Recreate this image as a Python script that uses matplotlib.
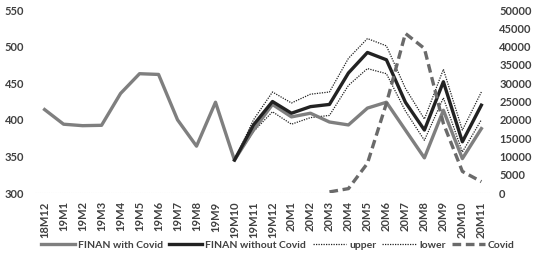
import matplotlib.pyplot as plt

plt.rcParams['font.family'] = ['Lato', 'DejaVu Sans']

months = ['18M12', '19M1', '19M2', '19M3', '19M4', '19M5', '19M6', '19M7', '19M8',
          '19M9', '19M10', '19M11', '19M12', '20M1', '20M2', '20M3', '20M4', '20M5',
          '20M6', '20M7', '20M8', '20M9', '20M10', '20M11']

with_covid = [414, 394, 392, 392.5, 436, 463, 462, 400, 364, 424, 345,
              386, 421, 404, 409, 397, 393, 416, 424, 386, 348, 413, 347, 388]

# forecast series start at 19M10
fc_months = months[10:]
without_covid = [345, 393, 425, 409, 418, 421, 464, 492, 482, 424, 386, 452, 370, 420]
upper = [345, 400, 438, 423, 435, 438, 484, 511, 501, 443, 401, 469, 386, 438]
lower = [345, 384, 411, 394, 403, 406, 447, 470, 463, 412, 372, 430, 356, 400]

covid_months = months[15:]
covid_cases = [300, 1200, 8100, 24500, 43600, 39500, 19000, 5900, 3100]

txt = '#404040'
fig = plt.figure(figsize=(5.4, 2.57), dpi=100)
ax = fig.add_axes([0.065, 0.249, 0.844, 0.712])
ax2 = ax.twinx()

x = list(range(len(months)))
xf = [months.index(m) for m in fc_months]
xc = [months.index(m) for m in covid_months]

l1, = ax.plot(x, with_covid, color='#7f7f7f', lw=2.4, label='FINAN with Covid', zorder=3)
l2, = ax.plot(xf, without_covid, color='#222222', lw=2.4, label='FINAN without Covid', zorder=4)
l3, = ax.plot(xf, upper, color='#222222', lw=0.9, ls=(0, (1, 1)), label='upper', zorder=2)
l4, = ax.plot(xf, lower, color='#222222', lw=0.9, ls=(0, (1, 1)), label='lower', zorder=2)
l5, = ax2.plot(xc, covid_cases, color='#6a6a6a', lw=2.4, ls=(0, (2.6, 1.4)), label='Covid')

ax.set_xlim(-0.5, len(months) - 0.5)
ax.set_ylim(300, 550)
ax.set_yticks(range(300, 551, 50))
ax2.set_ylim(0, 50000)
ax2.set_yticks(range(0, 50001, 5000))

ax.set_xticks(x)
ax.set_xticklabels(months, rotation=90)

for a in (ax, ax2):
    for s in a.spines.values():
        s.set_visible(False)
    a.tick_params(length=0, labelsize=8, labelcolor=txt)
    for t in a.get_xticklabels() + a.get_yticklabels():
        t.set_fontweight('bold')

ax.axhline(300, color='#d9d9d9', lw=0.8, ls=(0, (1, 1)), zorder=1)
ax.tick_params(axis='y', pad=8)
ax.tick_params(axis='x', pad=6)
ax2.tick_params(axis='y', pad=6)

leg = fig.legend(handles=[l1, l2, l3, l4, l5], loc='center', bbox_to_anchor=(0.515, 0.047),
                 ncol=5, frameon=False, fontsize=7.5, handlelength=3.2, handletextpad=0.3,
                 columnspacing=0.6)
for t in leg.get_texts():
    t.set_color(txt)
    t.set_fontweight('bold')

fig.savefig('out.png', dpi=100)
